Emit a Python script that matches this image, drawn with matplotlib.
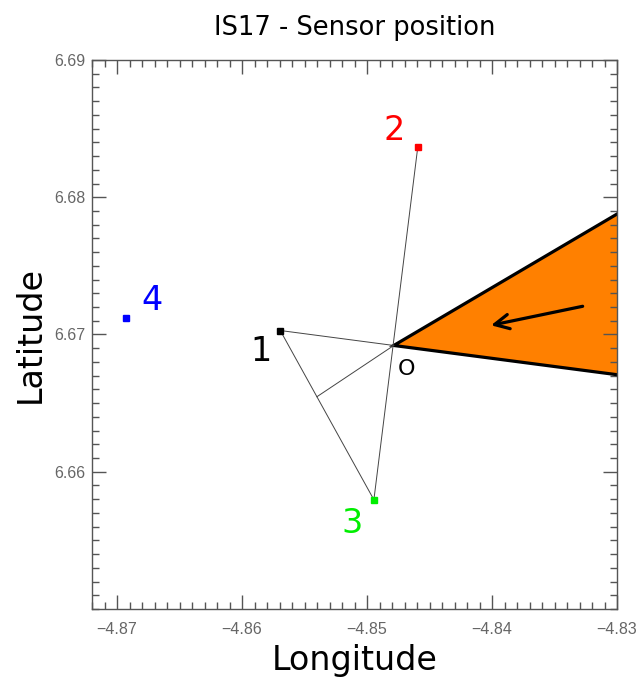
import numpy as np
import matplotlib.pyplot as plt
from matplotlib.ticker import MultipleLocator

# capteurs du site IS17 (lon, lat)
sensor_ids = ['1', '2', '3', '4']
sensor_lon = [-4.85694, -4.84594, -4.84945, -4.86929]
sensor_lat = [6.67029, 6.68365, 6.65796, 6.67117]
sensor_colors = ['black', 'red', '#00ee00', 'blue']

# point central O
center_lon = -4.84786
center_lat = 6.66920

# secteur de provenance (azimuts en degres depuis le nord)
beam_bearings = [61.8, 96.8]
arrow_range = [0.0156, 0.0077]   # debut / fin de la fleche, en degres

xticks = [-4.87, -4.86, -4.85, -4.84, -4.83]
yticks = [6.66, 6.67, 6.68, 6.69]


def point_at(bearing, dist):
    a = np.deg2rad(bearing)
    return center_lon + dist * np.sin(a), center_lat + dist * np.cos(a)


fig = plt.figure(figsize=(6.39, 6.80), dpi=100)
ax = fig.add_axes([0.144, 0.1044, 0.8216, 0.8074])

# secteur orange
p1 = point_at(beam_bearings[0], 0.06)
p2 = point_at(beam_bearings[1], 0.06)
ax.fill([center_lon, p1[0], p2[0]], [center_lat, p1[1], p2[1]],
        color='#ff8000', zorder=1)
ax.plot([p1[0], center_lon, p2[0]], [p1[1], center_lat, p2[1]],
        color='black', lw=2.3, zorder=2, solid_joinstyle='miter')

mid = np.mean(beam_bearings)
a0 = point_at(mid, arrow_range[0])
a1 = point_at(mid, arrow_range[1])
ax.annotate('', xy=a1, xytext=a0,
            arrowprops=dict(arrowstyle='->', lw=2.3, color='black',
                            mutation_scale=26), zorder=3)

# lignes entre capteurs
lon1, lat1 = sensor_lon[0], sensor_lat[0]
lon2, lat2 = sensor_lon[1], sensor_lat[1]
lon3, lat3 = sensor_lon[2], sensor_lat[2]
ax.plot([lon1, center_lon], [lat1, center_lat], color='#444444', lw=0.7, zorder=2)
ax.plot([lon2, lon3], [lat2, lat3], color='#444444', lw=0.7, zorder=2)
ax.plot([lon1, lon3], [lat1, lat3], color='#444444', lw=0.7, zorder=2)

# projection de O sur la droite 1-3
d = np.array([lon3 - lon1, lat3 - lat1])
v = np.array([center_lon - lon1, center_lat - lat1])
t = np.dot(v, d) / np.dot(d, d)
foot = np.array([lon1, lat1]) + t * d
ax.plot([center_lon, foot[0]], [center_lat, foot[1]], color='#444444', lw=0.7, zorder=2)

offsets = [(-14, -15), (-17, 12), (-16, -17), (19, 13)]
for sid, lon, lat, c, off in zip(sensor_ids, sensor_lon, sensor_lat, sensor_colors, offsets):
    ax.plot(lon, lat, 's', color=c, ms=4.5, zorder=4)
    ax.annotate(sid, (lon, lat), xytext=off, textcoords='offset points',
                ha='center', va='center', color=c, fontsize=24)

ax.annotate('O', (center_lon, center_lat), xytext=(9, -17), textcoords='offset points',
            ha='center', va='center', color='black', fontsize=16)

ax.set_xlim(-4.872, -4.83)
ax.set_ylim(6.65, 6.69)
ax.set_xticks(xticks)
ax.set_yticks(yticks)
ax.set_xticklabels(['\u22124.87', '\u22124.86', '\u22124.85', '\u22124.84', '\u22124.83'])
ax.xaxis.set_minor_locator(MultipleLocator(0.001))
ax.yaxis.set_minor_locator(MultipleLocator(0.001))
ax.tick_params(which='both', direction='in', top=True, right=True,
               color='#555555', labelcolor='#666666', labelsize=11.5)
ax.tick_params(axis='x', which='both', pad=9)
ax.tick_params(axis='y', which='both', pad=5)
ax.tick_params(which='major', length=10, width=1)
ax.tick_params(which='minor', length=5, width=1)
for lab in ax.get_xticklabels() + ax.get_yticklabels():
    lab.set_family('Liberation Sans')
for s in ax.spines.values():
    s.set_color('#555555')
    s.set_linewidth(1)
    s.set_zorder(5)

ax.set_title('IS17 - Sensor position', fontsize=18.5, pad=18)
ax.set_xlabel('Longitude', fontsize=24)
ax.set_ylabel('Latitude', fontsize=24)
ax.xaxis.set_label_coords(0.5, -0.093)
ax.yaxis.set_label_coords(-0.118, 0.5)
ax.xaxis.label.set_va('center')
ax.yaxis.label.set_va('center')

fig.savefig('out.png', dpi=100)
